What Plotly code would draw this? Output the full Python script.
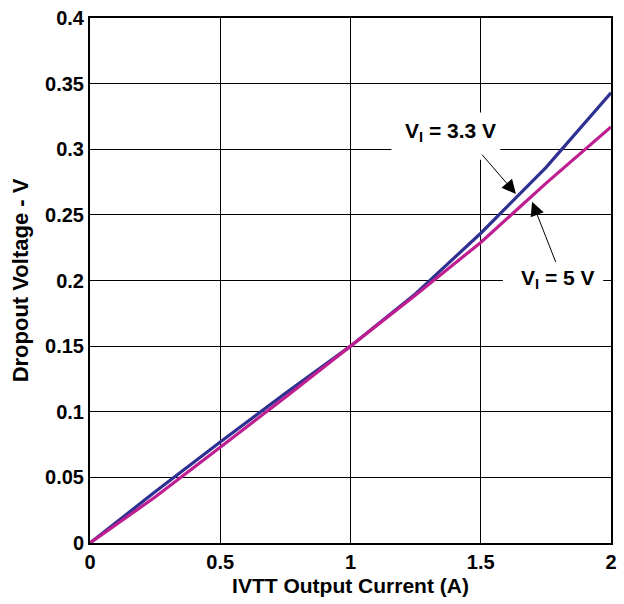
import plotly.graph_objects as go

current = [0, 0.25, 0.5, 0.75, 1.0, 1.25, 1.5, 1.75, 2.0]
v_33 = [0, 0.039, 0.077, 0.114, 0.150, 0.190, 0.236, 0.286, 0.343]
v_5 = [0, 0.035, 0.073, 0.111, 0.150, 0.189, 0.229, 0.274, 0.317]

x_ticks = [0, 0.5, 1, 1.5, 2]
x_labels = ["0", "0.5", "1", "1.5", "2"]
y_ticks = [0, 0.05, 0.1, 0.15, 0.2, 0.25, 0.3, 0.35, 0.4]
y_labels = ["0", "0.05", "0.1", "0.15", "0.2", "0.25", "0.3", "0.35", "0.4"]

FONT = "Liberation Sans, Arial, sans-serif"

fig = go.Figure()
fig.add_trace(go.Scatter(x=current, y=v_33, mode="lines", line=dict(color="#2E3192", width=3.2), showlegend=False))
fig.add_trace(go.Scatter(x=current, y=v_5, mode="lines", line=dict(color="#BE1E8F", width=3.2), showlegend=False))

# white boxes hiding gridlines behind labels
fig.add_shape(type="rect", x0=1.157, x1=1.575, y0=0.292, y1=0.328, layer="between",
              fillcolor="white", line=dict(width=0))
fig.add_shape(type="rect", x0=1.585, x1=1.97, y0=0.186, y1=0.216, layer="between",
              fillcolor="white", line=dict(width=0))

fig.add_annotation(x=1.384, y=0.313, text="V<sub>I</sub> = 3.3 V", showarrow=False,
                   font=dict(family=FONT, size=21, color="black", weight="bold"))
fig.add_annotation(x=1.795, y=0.201, text="V<sub>I</sub> = 5 V", showarrow=False,
                   font=dict(family=FONT, size=21, color="black", weight="bold"))

# arrows
fig.add_annotation(x=1.635, y=0.266, ax=1.5, ay=0.297, xref="x", yref="y", axref="x", ayref="y",
                   text="", showarrow=True, arrowhead=2, arrowsize=2.8, arrowwidth=1, arrowcolor="black")
fig.add_annotation(x=1.697, y=0.260, ax=1.79, ay=0.213, xref="x", yref="y", axref="x", ayref="y",
                   text="", showarrow=True, arrowhead=2, arrowsize=2.8, arrowwidth=1, arrowcolor="black")

axis_common = dict(showgrid=True, gridcolor="black", gridwidth=1, showline=True, linecolor="black",
                   linewidth=2, mirror=True, zeroline=False, ticks="",
                   tickfont=dict(family=FONT, size=20, color="black", weight="bold"))

fig.update_xaxes(range=[0, 2], tickvals=x_ticks, ticktext=x_labels,
                 title=dict(text="IVTT Output Current (A)", standoff=6,
                            font=dict(family=FONT, size=21, color="black", weight="bold")),
                 **axis_common)
fig.update_yaxes(range=[0, 0.4], tickvals=y_ticks, ticktext=y_labels,
                 title=dict(text="Dropout Voltage - V", standoff=10,
                            font=dict(family=FONT, size=22, color="black", weight="bold")),
                 **axis_common)

fig.update_layout(width=624, height=604, margin=dict(l=90, r=7, t=15, b=61),
                  plot_bgcolor="white", paper_bgcolor="white")

fig.write_html("out.html")
